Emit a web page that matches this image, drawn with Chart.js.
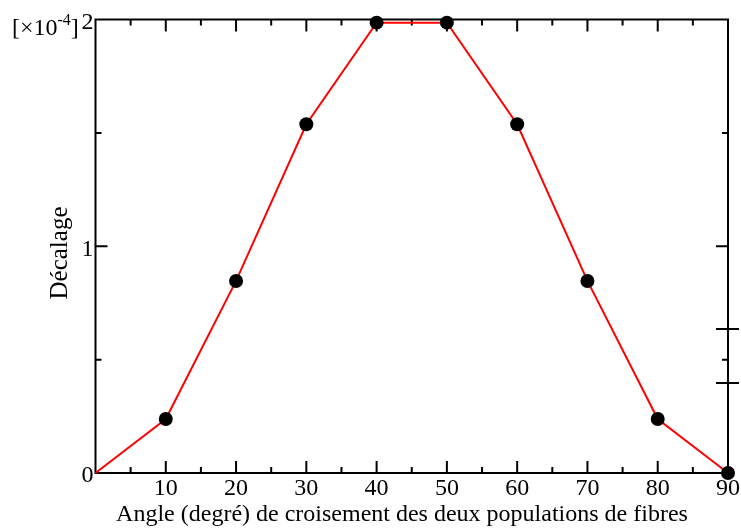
<!DOCTYPE html>
<html>
<head>
<meta charset="utf-8">
<script src="https://cdn.jsdelivr.net/npm/chart.js@4/dist/chart.umd.min.js"></script>
<style>
  body { margin: 0; background: #fff; }
</style>
</head>
<body>
<canvas id="decalageChart" width="741" height="531"></canvas>
<script>
// angle de croisement (degrés) et décalage mesuré (x 1e-4)
const angles = [0, 10, 20, 30, 40, 50, 60, 70, 80, 90];
const decalage = [0, 0.238, 0.847, 1.538, 1.986, 1.986, 1.538, 0.847, 0.238, 0];
const markerSizes = [0, 7, 7, 7, 7, 7, 7, 7, 7, 7];
const xTicks = [10, 20, 30, 40, 50, 60, 70, 80, 90];
const yTicks = [0, 1, 2];
// stray marks on the right axis
const rightMarks = [0.635, 0.397];

const serif = '"Liberation Serif", "DejaVu Serif", serif';

const framePlugin = {
    id: 'frame',
    beforeDatasetsDraw: function (chart) {
        const c = chart.ctx;
        const a = chart.chartArea;
        const xs = chart.scales.x;
        const ys = chart.scales.y;
        c.save();
        c.strokeStyle = '#000';
        c.lineWidth = 2;
        c.strokeRect(a.left, a.top, a.right - a.left, a.bottom - a.top);
        c.beginPath();
        for (let v = 5; v < 90; v += 5) {
            const len = v % 10 === 0 ? 12 : 6;
            const px = xs.getPixelForValue(v);
            c.moveTo(px, a.bottom); c.lineTo(px, a.bottom - len);
            c.moveTo(px, a.top); c.lineTo(px, a.top + len);
        }
        for (let v = 0.5; v < 2; v += 0.5) {
            const len = v % 1 === 0 ? 12 : 6;
            const py = ys.getPixelForValue(v);
            c.moveTo(a.left, py); c.lineTo(a.left + len, py);
            c.moveTo(a.right, py); c.lineTo(a.right - len, py);
        }
        rightMarks.forEach(function (v) {
            const py = ys.getPixelForValue(v);
            c.moveTo(a.right - 12, py); c.lineTo(a.right + 11, py);
        });
        c.stroke();
        c.restore();
    },
    afterDraw: function (chart) {
        const c = chart.ctx;
        c.save();
        c.fillStyle = '#000';
        // axis titles
        c.font = '24px ' + serif;
        c.textAlign = 'center';
        c.textBaseline = 'alphabetic';
        c.fillText('Angle (degré) de croisement des deux populations de fibres', 402, 521);
        c.translate(60, 253);
        c.rotate(-Math.PI / 2);
        c.textBaseline = 'middle';
        c.font = '25px ' + serif;
        c.fillText('Décalage', 0, 0);
        c.restore();

        // multiplier label
        c.save();
        c.fillStyle = '#000';
        c.textAlign = 'left';
        c.textBaseline = 'alphabetic';
        let x = 12;
        c.font = '24px ' + serif;
        c.fillText('[×10', x, 35);
        x += c.measureText('[×10').width;
        c.font = '16px ' + serif;
        c.fillText('-4', x, 25);
        x += c.measureText('-4').width;
        c.font = '24px ' + serif;
        c.fillText(']', x, 35);
        c.restore();
    }
};

new Chart(document.getElementById('decalageChart'), {
    type: 'line',
    data: {
        datasets: [{
            data: angles.map((a, i) => ({ x: a, y: decalage[i] })),
            borderColor: '#ff0000',
            borderWidth: 2,
            pointRadius: markerSizes,
            pointHoverRadius: markerSizes,
            pointBackgroundColor: '#000',
            pointBorderWidth: 0,
            tension: 0,
            clip: false
        }]
    },
    options: {
        responsive: false,
        animation: false,
        layout: { padding: { top: 19.5, right: 11, left: 0, bottom: 0 } },
        plugins: {
            legend: { display: false },
            tooltip: { enabled: false }
        },
        scales: {
            x: {
                type: 'linear',
                min: 0,
                max: 90,
                border: { display: false },
                grid: { display: false, drawTicks: false },
                afterBuildTicks: function (scale) {
                    scale.ticks = xTicks.map(v => ({ value: v }));
                },
                afterFit: function (scale) { scale.height = 58; },
                ticks: {
                    color: '#000',
                    padding: 1,
                    maxRotation: 0,
                    font: { family: serif, size: 24 }
                }
            },
            y: {
                min: 0,
                max: 2,
                border: { display: false },
                grid: { display: false, drawTicks: false },
                afterBuildTicks: function (scale) {
                    scale.ticks = yTicks.map(v => ({ value: v }));
                },
                afterFit: function (scale) { scale.width = 95.5; },
                ticks: {
                    color: '#000',
                    padding: 2,
                    labelOffset: 3,
                    font: { family: serif, size: 24 }
                }
            }
        }
    },
    plugins: [framePlugin]
});
</script>
</body>
</html>
